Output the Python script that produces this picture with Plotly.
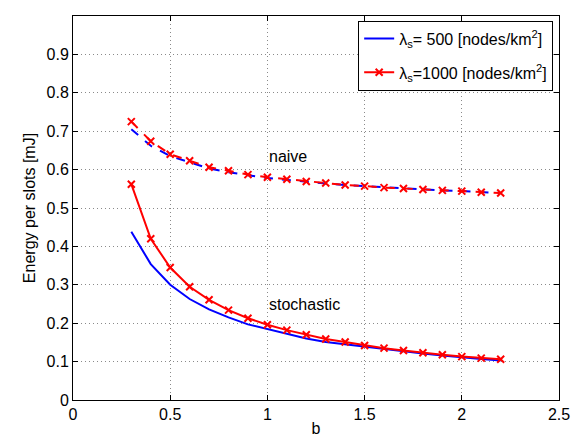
import plotly.graph_objects as go

b = [0.3, 0.4, 0.5, 0.6, 0.7, 0.8, 0.9, 1.0, 1.1, 1.2, 1.3, 1.4, 1.5, 1.6, 1.7, 1.8, 1.9, 2.0, 2.1, 2.2]

naive_500 = [0.705, 0.662, 0.635, 0.618, 0.603, 0.593, 0.585, 0.578, 0.573, 0.568, 0.564, 0.560, 0.557, 0.554, 0.551, 0.548, 0.546, 0.544, 0.541, 0.539]
naive_1000 = [0.725, 0.674, 0.640, 0.623, 0.606, 0.597, 0.587, 0.580, 0.575, 0.569, 0.565, 0.560, 0.557, 0.553, 0.551, 0.548, 0.546, 0.544, 0.541, 0.539]
stoch_500 = [0.438, 0.354, 0.300, 0.263, 0.236, 0.215, 0.197, 0.184, 0.171, 0.160, 0.151, 0.145, 0.139, 0.132, 0.126, 0.121, 0.116, 0.111, 0.107, 0.103]
stoch_1000 = [0.562, 0.420, 0.345, 0.295, 0.261, 0.234, 0.213, 0.196, 0.182, 0.170, 0.159, 0.151, 0.142, 0.135, 0.129, 0.123, 0.118, 0.113, 0.109, 0.106]

legend_500 = "λ<sub>s</sub>= 500 [nodes/km<sup>2</sup>]"
legend_1000 = "λ<sub>s</sub>=1000 [nodes/km<sup>2</sup>]"

x_ticks = [0, 0.5, 1, 1.5, 2, 2.5]
y_ticks = [0, 0.1, 0.2, 0.3, 0.4, 0.5, 0.6, 0.7, 0.8, 0.9, 1]

BLUE = "#0000ff"
RED = "#ff0000"
FONT = "Liberation Sans, Arial, Helvetica, sans-serif"
mk = dict(symbol="x-thin", size=7, line=dict(width=2, color=RED), color=RED)

fig = go.Figure()
fig.add_trace(go.Scatter(x=b, y=stoch_500, mode="lines", name=legend_500, legendgroup="g1",
                         line=dict(color=BLUE, width=2)))
fig.add_trace(go.Scatter(x=b, y=stoch_1000, mode="lines+markers", name=legend_1000, legendgroup="g2",
                         line=dict(color=RED, width=2), marker=mk))
fig.add_trace(go.Scatter(x=b, y=naive_500, mode="lines", showlegend=False, legendgroup="g1",
                         line=dict(color=BLUE, width=2, dash="dash")))
fig.add_trace(go.Scatter(x=b, y=naive_1000, mode="lines+markers", showlegend=False, legendgroup="g2",
                         line=dict(color=RED, width=2, dash="dash"), marker=mk))

fig.add_annotation(x=1.0, y=0.633, text="naive", showarrow=False, xanchor="left",
                   font=dict(size=16, color="black", family=FONT))
fig.add_annotation(x=1.0, y=0.25, text="stochastic", showarrow=False, xanchor="left",
                   font=dict(size=16, color="black", family=FONT))

axis_common = dict(showline=True, linecolor="black", linewidth=1, mirror="ticks",
                   ticks="inside", ticklen=5, tickcolor="black",
                   showgrid=True, gridcolor="#8a8a8a", griddash="1px,3px", gridwidth=1,
                   zeroline=False, tickfont=dict(size=16, color="black", family=FONT))

fig.update_xaxes(range=[0, 2.5], tickvals=x_ticks, ticktext=[f"{v:g}" for v in x_ticks],
                 title=dict(text="b", font=dict(size=16, color="black", family=FONT), standoff=0),
                 **axis_common)
fig.update_yaxes(range=[0, 1], tickvals=y_ticks, ticktext=[f"{v:g}" for v in y_ticks],
                 title=dict(text="Energy per slots [mJ]", font=dict(size=16, color="black", family=FONT), standoff=6),
                 **axis_common)

fig.update_layout(
    width=581, height=437,
    margin=dict(l=65, r=30, t=8, b=45),
    plot_bgcolor="white", paper_bgcolor="white",
    font=dict(family=FONT, size=16, color="black"),
    legend=dict(x=0.988, y=0.988, xanchor="right", yanchor="top",
                bgcolor="white", bordercolor="black", borderwidth=1,
                font=dict(size=16, family=FONT), itemwidth=30, tracegroupgap=10),
)

fig.write_html("out.html")
